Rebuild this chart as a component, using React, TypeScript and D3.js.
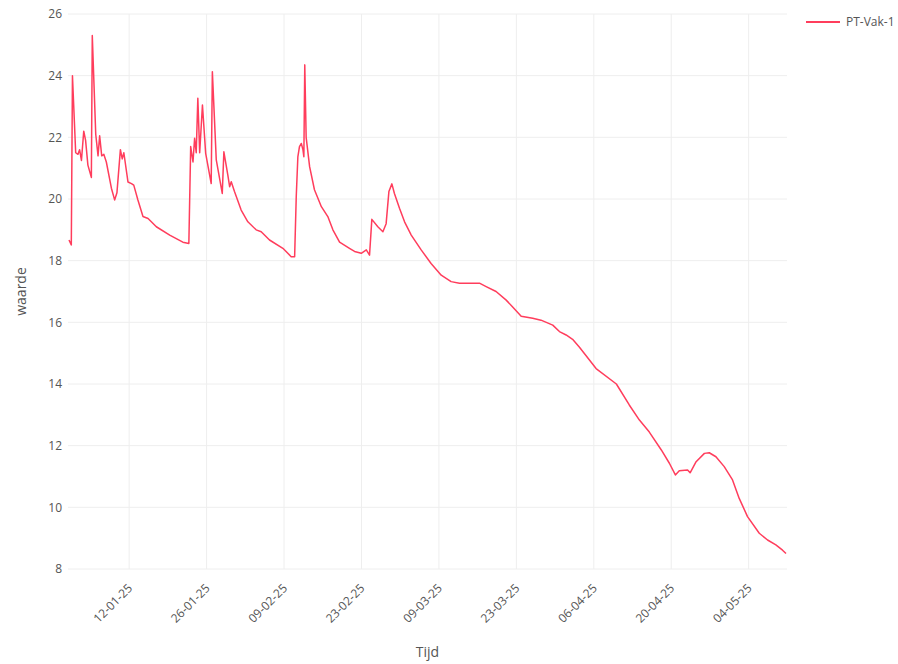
import React, { useEffect, useRef } from 'react';
import * as d3 from 'd3';

// meetmomenten (UTC) en waarden van PT-Vak-1
const times = [
  '2025-01-01T03', '2025-01-01T13', '2025-01-01T18', '2025-01-02T08', '2025-01-02T18',
  '2025-01-03T01', '2025-01-03T09', '2025-01-03T19', '2025-01-04T03', '2025-01-04T13',
  '2025-01-05T04', '2025-01-05T08', '2025-01-05T23', '2025-01-06T09', '2025-01-06T16',
  '2025-01-07T01', '2025-01-07T10', '2025-01-07T21', '2025-01-08T19', '2025-01-09T09',
  '2025-01-09T19', '2025-01-10T10', '2025-01-10T18', '2025-01-11T01', '2025-01-11T19',
  '2025-01-12T10', '2025-01-12T20', '2025-01-13T14', '2025-01-14T12', '2025-01-15T10',
  '2025-01-16T22', '2025-01-19T08', '2025-01-21T17', '2025-01-22T19', '2025-01-23T03',
  '2025-01-23T13', '2025-01-23T20', '2025-01-24T03', '2025-01-24T10', '2025-01-24T18',
  '2025-01-25T06', '2025-01-25T20', '2025-01-26T20', '2025-01-27T01', '2025-01-27T18',
  '2025-01-28T20', '2025-01-29T03', '2025-01-29T20', '2025-01-30T04', '2025-01-30T11',
  '2025-01-31T01', '2025-02-01T06', '2025-02-02T11', '2025-02-03T23', '2025-02-04T21',
  '2025-02-06T09', '2025-02-08T19', '2025-02-10T07', '2025-02-10T22', '2025-02-11T05',
  '2025-02-11T12', '2025-02-11T19', '2025-02-12T03', '2025-02-12T10', '2025-02-12T14',
  '2025-02-12T18', '2025-02-13T00', '2025-02-13T15', '2025-02-14T12', '2025-02-15T18',
  '2025-02-16T22', '2025-02-17T20', '2025-02-19T01', '2025-02-20T20', '2025-02-21T18',
  '2025-02-22T23', '2025-02-23T21', '2025-02-24T11', '2025-02-24T21', '2025-02-25T23',
  '2025-02-26T21', '2025-02-27T11', '2025-02-27T23', '2025-02-28T12', '2025-02-28T23',
  '2025-03-01T21', '2025-03-02T19', '2025-03-04T00', '2025-03-05T19', '2025-03-07T14',
  '2025-03-09T10', '2025-03-11T05', '2025-03-12T17', '2025-03-15T03', '2025-03-16T08',
  '2025-03-17T13', '2025-03-19T08', '2025-03-21T04', '2025-03-22T08', '2025-03-23T21',
  '2025-03-25T23', '2025-03-27T11', '2025-03-29T14', '2025-03-30T19', '2025-04-01T00',
  '2025-04-02T04', '2025-04-03T09', '2025-04-06T10', '2025-04-10T02', '2025-04-12T10',
  '2025-04-14T06', '2025-04-16T01', '2025-04-18T05', '2025-04-19T16', '2025-04-20T18',
  '2025-04-21T11', '2025-04-22T23', '2025-04-23T10', '2025-04-24T12', '2025-04-26T00',
  '2025-04-26T21', '2025-04-28T02', '2025-04-29T14', '2025-05-01T02', '2025-05-02T07',
  '2025-05-03T19', '2025-05-05T22', '2025-05-07T10', '2025-05-08T22', '2025-05-10T03',
  '2025-05-10T18',
];

const values = [
  18.67, 18.51, 24.0, 21.5, 21.45,
  21.6, 21.25, 22.2, 21.9, 21.1,
  20.7, 25.3, 22.1, 21.4, 22.05,
  21.4, 21.45, 21.2, 20.35, 19.97,
  20.2, 21.6, 21.3, 21.5, 20.55,
  20.5, 20.45, 19.97, 19.43, 19.37,
  19.1, 18.83, 18.6, 18.56, 21.7,
  21.2, 21.97, 21.5, 23.27, 21.5,
  23.05, 21.48, 20.5, 24.13, 21.27,
  20.18, 21.53, 20.78, 20.4, 20.56,
  20.24, 19.64, 19.26, 19.0, 18.94,
  18.67, 18.4, 18.13, 18.13, 20.07,
  21.37, 21.7, 21.8, 21.6, 21.37,
  24.35, 22.0, 21.05, 20.3, 19.75,
  19.43, 19.0, 18.6, 18.4, 18.3,
  18.24, 18.35, 18.18, 19.34, 19.1,
  18.94, 19.2, 20.24, 20.49, 20.18,
  19.7, 19.26, 18.83, 18.35, 17.91,
  17.53, 17.32, 17.27, 17.27, 17.27,
  17.16, 17.0, 16.72, 16.5, 16.2,
  16.13, 16.07, 15.91, 15.7, 15.59,
  15.45, 15.2, 14.5, 14.0, 13.32,
  12.83, 12.44, 11.86, 11.43, 11.05,
  11.19, 11.21, 11.12, 11.48, 11.75,
  11.77, 11.64, 11.32, 10.89, 10.29,
  9.7, 9.16, 8.94, 8.78, 8.61,
  8.5,
];

const xTicks = [
  '2025-01-12', '2025-01-26', '2025-02-09', '2025-02-23', '2025-03-09',
  '2025-03-23', '2025-04-06', '2025-04-20', '2025-05-04',
];
const yTicks = [8, 10, 12, 14, 16, 18, 20, 22, 24, 26];
const seriesName = 'PT-Vak-1';

const W = 898;
const H = 664;
const left = 69;
const right = 786;
const gridLeft = 68;
const gridRight = 787;
const top = 14;
const bottom = 569;
const lineColor = '#ff3d5c';
const font = '"Open Sans", "Noto Sans", sans-serif';

export default function App() {
  const ref = useRef<SVGSVGElement>(null);

  useEffect(() => {
    const svg = d3.select(ref.current);
    svg.selectAll('*').remove();

    const parse = d3.utcParse('%Y-%m-%dT%H');
    const parseDay = d3.utcParse('%Y-%m-%d');
    const data = times.map((t, i) => ({ t: parse(t) as Date, v: values[i] }));

    const x = d3
      .scaleUtc()
      .domain(d3.extent(data, d => d.t) as [Date, Date])
      .range([left, right]);
    const y = d3.scaleLinear().domain([8, 26]).range([bottom, top]);
    const fmt = d3.utcFormat('%d-%m-%y');

    // grid
    const grid = svg.append('g');
    grid
      .selectAll('line.h')
      .data(yTicks)
      .enter()
      .append('line')
      .attr('x1', gridLeft)
      .attr('x2', gridRight)
      .attr('y1', d => y(d))
      .attr('y2', d => y(d))
      .attr('stroke', '#eeeeee')
      .attr('stroke-width', 1);
    grid
      .selectAll('line.v')
      .data(xTicks)
      .enter()
      .append('line')
      .attr('x1', d => x(parseDay(d) as Date))
      .attr('x2', d => x(parseDay(d) as Date))
      .attr('y1', top)
      .attr('y2', bottom)
      .attr('stroke', '#eeeeee')
      .attr('stroke-width', 1);

    // y tick labels
    svg
      .append('g')
      .selectAll('text')
      .data(yTicks)
      .enter()
      .append('text')
      .attr('x', gridLeft - 6)
      .attr('y', d => y(d))
      .attr('dy', '0.35em')
      .attr('text-anchor', 'end')
      .attr('font-family', font)
      .attr('font-size', 12)
      .attr('fill', '#555')
      .text(d => d);

    // x tick labels, rotated
    svg
      .append('g')
      .selectAll('text')
      .data(xTicks)
      .enter()
      .append('text')
      .attr('transform', d => `translate(${x(parseDay(d) as Date) + 4},${bottom + 20}) rotate(-45)`)
      .attr('text-anchor', 'end')
      .attr('font-family', font)
      .attr('font-size', 12)
      .attr('fill', '#555')
      .text(d => fmt(parseDay(d) as Date));

    // line
    const line = d3
      .line<{ t: Date; v: number }>()
      .x(d => x(d.t))
      .y(d => y(d.v));
    svg
      .append('path')
      .datum(data)
      .attr('d', line)
      .attr('fill', 'none')
      .attr('stroke', lineColor)
      .attr('stroke-width', 1.5)
      .attr('stroke-linejoin', 'round');

    // axis titles
    svg
      .append('text')
      .attr('x', (gridLeft + gridRight) / 2)
      .attr('y', 657)
      .attr('text-anchor', 'middle')
      .attr('font-family', font)
      .attr('font-size', 14)
      .attr('fill', '#555')
      .text('Tijd');
    svg
      .append('text')
      .attr('transform', `translate(26,${(top + bottom) / 2}) rotate(-90)`)
      .attr('text-anchor', 'middle')
      .attr('font-family', font)
      .attr('font-size', 14)
      .attr('fill', '#555')
      .text('waarde');

    // legend
    const lg = svg.append('g').attr('transform', 'translate(806,22)');
    lg.append('line')
      .attr('x1', 0)
      .attr('x2', 34)
      .attr('stroke', lineColor)
      .attr('stroke-width', 2);
    lg.append('text')
      .attr('x', 40)
      .attr('dy', '0.35em')
      .attr('font-family', font)
      .attr('font-size', 12)
      .attr('fill', '#555')
      .text(seriesName);
  }, []);

  return (
    <svg
      ref={ref}
      width={W}
      height={H}
      style={{ position: 'absolute', left: 0, top: 0, background: '#fff' }}
    />
  );
}
